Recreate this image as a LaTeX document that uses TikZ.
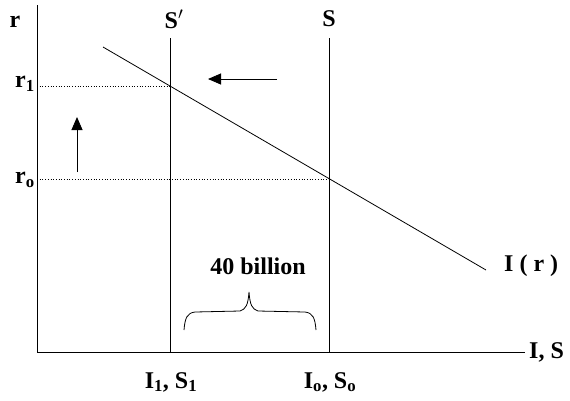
\documentclass[tikz,border=0pt]{standalone}
\usepackage{fontspec}
\setmainfont{Liberation Serif}
\usetikzlibrary{arrows.meta}
\begin{document}
\begin{tikzpicture}[x=1pt,y=-1pt,
  lbl/.style={font=\fontsize{24}{27}\selectfont\bfseries, inner sep=0pt},
  axis/.style={line width=1pt},
  curve/.style={line width=0.8pt},
  guide/.style={dotted, line width=0.7pt},
  mover/.style={line width=0.9pt, -{Triangle[length=13pt,width=11pt]}}]
\useasboundingbox (0,0) rectangle (570,400);
% axes
\coordinate (O) at (37,352);
\coordinate (Ytop) at (37,5);
\coordinate (Xend) at (525,352);
\draw[axis] (Ytop) -- (O) -- (Xend);
\node[lbl] (r) at (15,22) {r};
\node[lbl,anchor=west] (IS) at (529,352) {I, S};
% supply lines
\coordinate (Sp1) at (170,38);
\coordinate (Sp0) at (170,352);
\coordinate (S1) at (329,38);
\coordinate (S0) at (329,352);
\draw[curve] (Sp1) -- (Sp0);
\draw[curve] (S1) -- (S0);
\node[lbl] (Splbl) at (174,19) {S$'$};
\node[lbl] (Slbl) at (329,19) {S};
% demand
\coordinate (D1) at (103,47);
\coordinate (D2) at (486,270);
\draw[curve] (D1) -- (D2);
\node[lbl,anchor=west] (Ir) at (504,266) {I ( r )};
% intersections
\coordinate (E1) at (170,86);
\coordinate (E0) at (329,179);
\coordinate (Y1) at (37,86);
\coordinate (Y0) at (37,179);
\draw[guide] (Y1) -- (E1);
\draw[guide] (Y0) -- (E0);
\node[lbl,anchor=east] (r1) at (35,84) {r\textsubscript{1}};
\node[lbl,anchor=east] (r0) at (35,180) {r\textsubscript{o}};
% arrows
\coordinate (A1) at (77,172);
\coordinate (A2) at (77,117);
\draw[mover] (A1) -- (A2);
\coordinate (B1) at (277,79);
\coordinate (B2) at (208,79);
\draw[mover] (B1) -- (B2);
% brace
\coordinate (Br1) at (184,330);
\coordinate (Br2) at (316,330);
\coordinate (BrTip) at (249,292);
\draw[curve] (Br1) .. controls (185,318) and (187,313) .. (195,312)
  -- (240,311) .. controls (246,309) and (248,305) .. (BrTip)
  .. controls (250,305) and (252,309) .. (258,311)
  -- (305,312) .. controls (313,313) and (315,318) .. (Br2);
\node[lbl] (bill) at (258,266) {40 billion};
% x labels
\node[lbl] (x1) at (171,382) {I\textsubscript{1}, S\textsubscript{1}};
\node[lbl] (x0) at (330,382) {I\textsubscript{o}, S\textsubscript{o}};
\end{tikzpicture}
\end{document}
